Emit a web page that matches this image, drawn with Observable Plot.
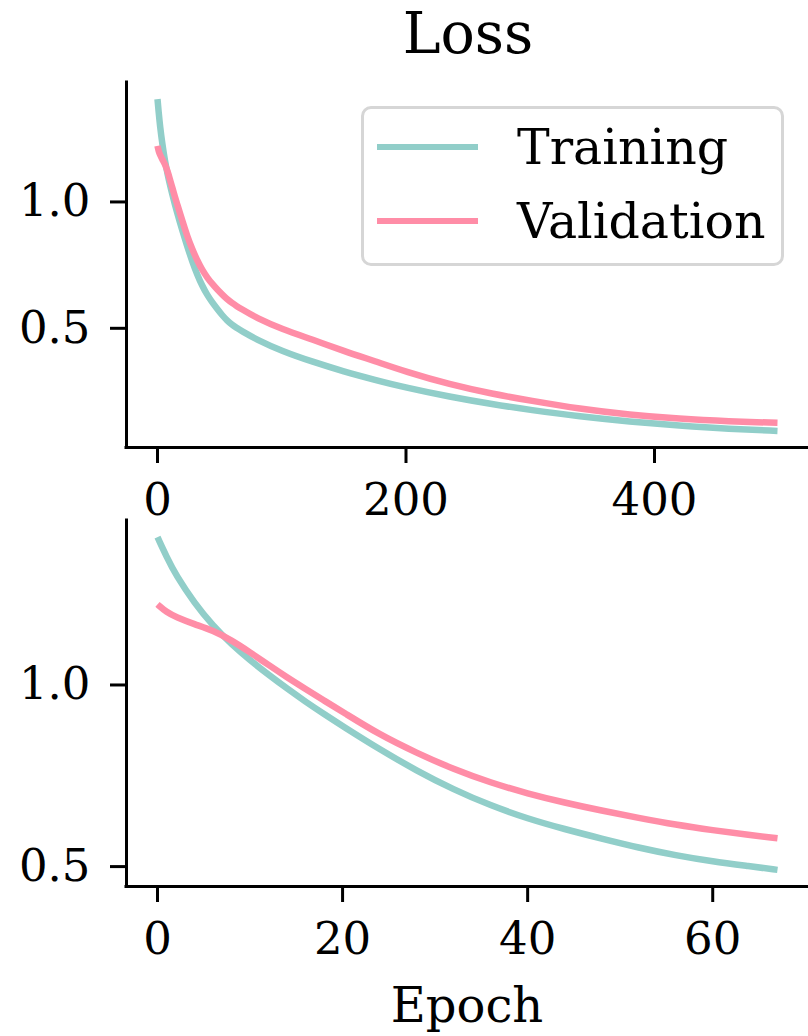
<!DOCTYPE html>
<html><head><meta charset="utf-8">
<script src="https://cdn.jsdelivr.net/npm/d3@7"></script>
<script src="https://cdn.jsdelivr.net/npm/@observablehq/plot@0.6"></script>
<style>
body{margin:0;background:#fff;}
#root{position:relative;width:808px;height:1036px;overflow:hidden;font-family:"DejaVu Serif",serif;color:#000;background:#fff;}
.abs{position:absolute;white-space:nowrap;line-height:1;}
.panel{position:absolute;left:0;}
</style></head>
<body><div id="root"></div>
<script>
// ---- data ----
const seriesNames = ["Training", "Validation"];
const seriesColors = ["#91cec9", "#ff8da7"];
const epochs = [0,1,2,4,6,8,10,12,14,16,18,20,24,28,32,36,40,44,48,52,56,60,64,67,80,100,125,150,175,200,235,270,300,340,380,420,460,499];
const trainLoss = [1.407,1.352,1.302,1.225,1.163,1.112,1.068,1.028,0.990,0.954,0.920,0.887,0.823,0.764,0.712,0.668,0.632,0.603,0.577,0.552,0.531,0.514,0.501,0.491,0.455,0.410,0.367,0.329,0.296,0.265,0.229,0.199,0.177,0.151,0.131,0.115,0.102,0.094];
const valLoss = [1.222,1.200,1.187,1.167,1.150,1.123,1.090,1.055,1.021,0.989,0.957,0.926,0.863,0.813,0.768,0.731,0.701,0.676,0.654,0.634,0.615,0.600,0.587,0.578,0.540,0.497,0.455,0.410,0.370,0.328,0.278,0.240,0.214,0.181,0.158,0.142,0.132,0.126];
const zoomLastEpoch = 67;
const topXTicks = [0, 200, 400];
const bottomXTicks = [0, 20, 40, 60];
const yTicks = [0.5, 1.0];
const titleText = "Loss";
const xLabelText = "Epoch";

// ---- build ----
const rows = [];
epochs.forEach((e, i) => {
  rows.push({epoch: e, loss: trainLoss[i], series: seriesNames[0]});
  rows.push({epoch: e, loss: valLoss[i], series: seriesNames[1]});
});

function padded(lo, hi) { const m = (hi - lo) * 0.05; return [lo - m, hi + m]; }

const LW = 6.5;

function panel(data, xTicks, height, mt, mb) {
  const xDom = padded(d3.min(data, d => d.epoch), d3.max(data, d => d.epoch));
  const yDom = padded(d3.min(data, d => d.loss), d3.max(data, d => d.loss));
  return Plot.plot({
    width: 808, height, marginLeft: 126, marginRight: 0, marginTop: mt, marginBottom: mb,
    style: {background: "transparent", overflow: "visible", fontFamily: "'DejaVu Serif', serif", color: "#000"},
    x: {domain: xDom}, y: {domain: yDom},
    color: {domain: seriesNames, range: seriesColors},
    marks: [
      Plot.line(data, {x: "epoch", y: "loss", stroke: "series", z: "series", strokeWidth: LW, curve: "basis", strokeLinecap: "butt"}),
      Plot.ruleX([xDom[0]], {y1: yDom[0], y2: yDom[1], stroke: "#000", strokeWidth: 3, strokeLinecap: "square"}),
      Plot.ruleY([yDom[0]], {x1: xDom[0], x2: xDom[1], stroke: "#000", strokeWidth: 3, strokeLinecap: "square"}),
      Plot.axisX({ticks: xTicks, tickSize: 16, tickPadding: 20, fontSize: 45, strokeWidth: 3, label: null, tickFormat: d => String(d)}),
      Plot.axisY({ticks: yTicks, tickSize: 16, tickPadding: 20, fontSize: 45, strokeWidth: 3, label: null, tickFormat: d3.format(".1f")})
    ]
  });
}

const root = document.getElementById("root");

const top1 = panel(rows, topXTicks, 480, 22, 93);
top1.classList.add("panel"); top1.style.top = "60px";
root.appendChild(top1);

const bottom = panel(rows.filter(d => d.epoch <= zoomLastEpoch), bottomXTicks, 526, 10, 150);
bottom.classList.add("panel"); bottom.style.top = "510px";
root.appendChild(bottom);

function addText(txt, left, top, size, anchor) {
  const d = document.createElement("div");
  d.className = "abs"; d.textContent = txt;
  d.style.fontSize = size + "px"; d.style.top = top + "px";
  d.style.left = left + "px";
  if (anchor === "middle") d.style.transform = "translateX(-50%)";
  root.appendChild(d);
  return d;
}
addText(titleText, 468, 5, 57, "middle");
addText(xLabelText, 467, 981, 48, "middle");

// legend
const lg = document.createElement("div");
Object.assign(lg.style, {position: "absolute", left: "361px", top: "106px", width: "423px", height: "160px",
  border: "3px solid #d6d6d6", borderRadius: "10px", boxSizing: "border-box", background: "rgba(255,255,255,0.8)"});
root.appendChild(lg);
const legendY = [147, 221];
seriesNames.forEach((name, i) => {
  const sw = document.createElement("div");
  Object.assign(sw.style, {position: "absolute", left: "377px", top: (legendY[i] - LW / 2) + "px", width: "101px", height: LW + "px", background: seriesColors[i]});
  root.appendChild(sw);
  addText(name, 517, legendY[i] - 24, 49);
});
</script>
</body></html>
